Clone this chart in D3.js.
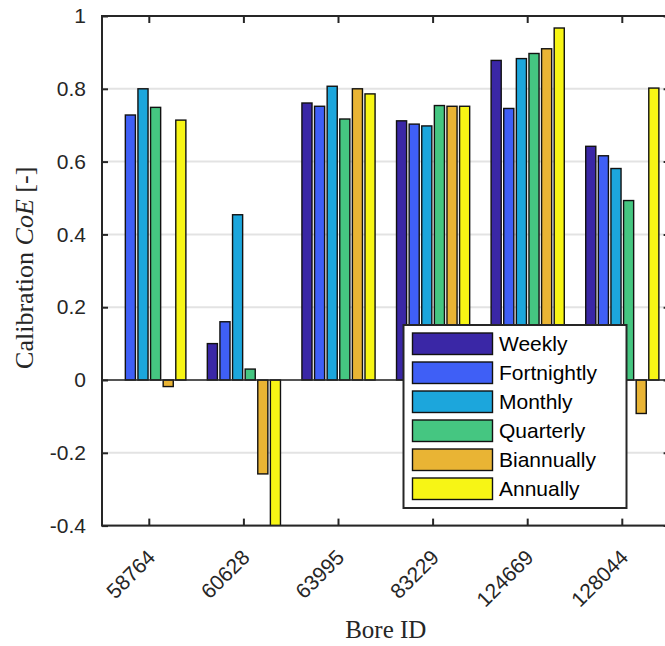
<!DOCTYPE html>
<html><head><meta charset="utf-8">
<script src="https://cdn.jsdelivr.net/npm/d3@7"></script>
<style>body{margin:0;background:#fff}svg{display:block}</style>
</head><body>
<svg id="c" width="665" height="646"></svg>
<script>
const categories = ["58764","60628","63995","83229","124669","128044"];
const seriesNames = ["Weekly","Fortnightly","Monthly","Quarterly","Biannually","Annually"];
const weekly      = [0.000, 0.100, 0.761, 0.712, 0.878, 0.642];
const fortnightly = [0.728, 0.160, 0.752, 0.703, 0.746, 0.616];
const monthly     = [0.800, 0.454, 0.807, 0.698, 0.883, 0.581];
const quarterly   = [0.749, 0.030, 0.717, 0.754, 0.897, 0.493];
const biannually  = [-0.018, -0.258, 0.800, 0.752, 0.910, -0.092];
const annually    = [0.714, -0.45, 0.786, 0.752, 0.967, 0.802];
const seriesColors = ["#3a27a6","#3f5ff6","#1ca6dc","#45c681","#e9b434","#f7f515"];
const yTicks = [-0.4,-0.2,0,0.2,0.4,0.6,0.8,1];
const yTickLabels = ["-0.4","-0.2","0","0.2","0.4","0.6","0.8","1"];

const series = [weekly, fortnightly, monthly, quarterly, biannually, annually];
const svg = d3.select("#c");
const L = 102, R = 669.6, T = 16, B = 525.6;
const axisColor = "#262626";

const x = d3.scaleBand().domain(categories).range([L, R]).paddingInner(0).paddingOuter(0);
const step = x.step();
const xs = d3.scaleBand().domain(seriesNames).range([0.1*step, 0.9*step]).paddingInner(0.2).paddingOuter(0.1);
const y = d3.scaleLinear().domain([-0.4, 1]).range([B, T]);

svg.append("clipPath").attr("id","clip").append("rect").attr("x",L).attr("y",T).attr("width",R-L).attr("height",B-T);

// gridlines
svg.append("g").selectAll("line").data(yTicks).join("line")
  .attr("x1",L).attr("x2",R).attr("y1",d=>y(d)).attr("y2",d=>y(d))
  .attr("stroke","#e3e3e3").attr("stroke-width",2);

// bars
const gBars = svg.append("g").attr("clip-path","url(#clip)");
series.forEach((vals,si)=>{
  gBars.append("g").selectAll("rect").data(vals.map((v,i)=>({v,c:categories[i]}))).join("rect")
    .attr("x", d=>x(d.c)+xs(seriesNames[si]))
    .attr("width", xs.bandwidth())
    .attr("y", d=>y(Math.max(0,d.v)))
    .attr("height", d=>Math.abs(y(d.v)-y(0)))
    .attr("fill", seriesColors[si])
    .attr("stroke","#111").attr("stroke-width",1.4);
});

// baseline
svg.append("line").attr("x1",L).attr("x2",R).attr("y1",y(0)).attr("y2",y(0))
  .attr("stroke",axisColor).attr("stroke-width",1.6);

// axes box
svg.append("rect").attr("x",L).attr("y",T).attr("width",R-L).attr("height",B-T)
  .attr("fill","none").attr("stroke",axisColor).attr("stroke-width",2);

// y axis
const yAxisL = d3.axisLeft(y).tickValues(yTicks).tickSizeInner(-6).tickSizeOuter(0).tickPadding(16)
  .tickFormat((d,i)=>yTickLabels[i]);
const gy = svg.append("g").attr("transform",`translate(${L},0)`).call(yAxisL);
gy.select(".domain").remove();
gy.selectAll(".tick line").attr("stroke",axisColor).attr("stroke-width",2);
gy.selectAll(".tick text").attr("font-family","Liberation Sans, Arial, sans-serif").attr("font-size",21).attr("fill","#262626").attr("x",-16);

const yAxisR = d3.axisRight(y).tickValues(yTicks).tickSizeInner(-6).tickSizeOuter(0).tickFormat("");
const gyr = svg.append("g").attr("transform",`translate(${R},0)`).call(yAxisR);
gyr.select(".domain").remove();
gyr.selectAll(".tick line").attr("stroke",axisColor).attr("stroke-width",2);

// x axis
const xAxisB = d3.axisBottom(x).tickSizeInner(-7).tickSizeOuter(0).tickFormat("");
const gx = svg.append("g").attr("transform",`translate(0,${B})`).call(xAxisB);
gx.select(".domain").remove();
gx.selectAll(".tick line").attr("stroke",axisColor).attr("stroke-width",2);
gx.selectAll(".tick").append("text")
  .attr("transform","translate(-4,22) rotate(-45)")
  .attr("text-anchor","end").attr("dy","0.75em")
  .attr("font-family","Liberation Sans, Arial, sans-serif").attr("font-size",21).attr("fill","#262626")
  .text(d=>d);

const xAxisT = d3.axisTop(x).tickSizeInner(-7).tickSizeOuter(0).tickFormat("");
const gxt = svg.append("g").attr("transform",`translate(0,${T})`).call(xAxisT);
gxt.select(".domain").remove();
gxt.selectAll(".tick line").attr("stroke",axisColor).attr("stroke-width",2);

// axis labels
svg.append("text").attr("x",(L+R)/2).attr("y",638).attr("text-anchor","middle")
  .attr("font-family","Liberation Serif, Times New Roman, serif").attr("font-size",25).attr("fill","#262626")
  .text("Bore ID");
const yl = svg.append("text").attr("transform",`translate(33,${(T+B)/2-3}) rotate(-90)`).attr("text-anchor","middle")
  .attr("font-family","Liberation Serif, Times New Roman, serif").attr("font-size",26).attr("fill","#262626");
yl.append("tspan").text("Calibration ");
yl.append("tspan").attr("font-style","italic").text("CoE");
yl.append("tspan").text(" [-]");

// legend
const lg = svg.append("g");
lg.append("rect").attr("x",403.5).attr("y",325).attr("width",223).attr("height",183)
  .attr("fill","#fff").attr("stroke",axisColor).attr("stroke-width",2);
seriesNames.forEach((s,i)=>{
  const yy = 333 + i*29;
  lg.append("rect").attr("x",412.5).attr("y",yy).attr("width",80).attr("height",21.5)
    .attr("fill",seriesColors[i]).attr("stroke","#111").attr("stroke-width",1.4);
  lg.append("text").attr("x",499).attr("y",yy+10.75).attr("dy","0.36em")
    .attr("font-family","Liberation Sans, Arial, sans-serif").attr("font-size",21).attr("fill","#000")
    .text(s);
});
</script>
</body></html>
